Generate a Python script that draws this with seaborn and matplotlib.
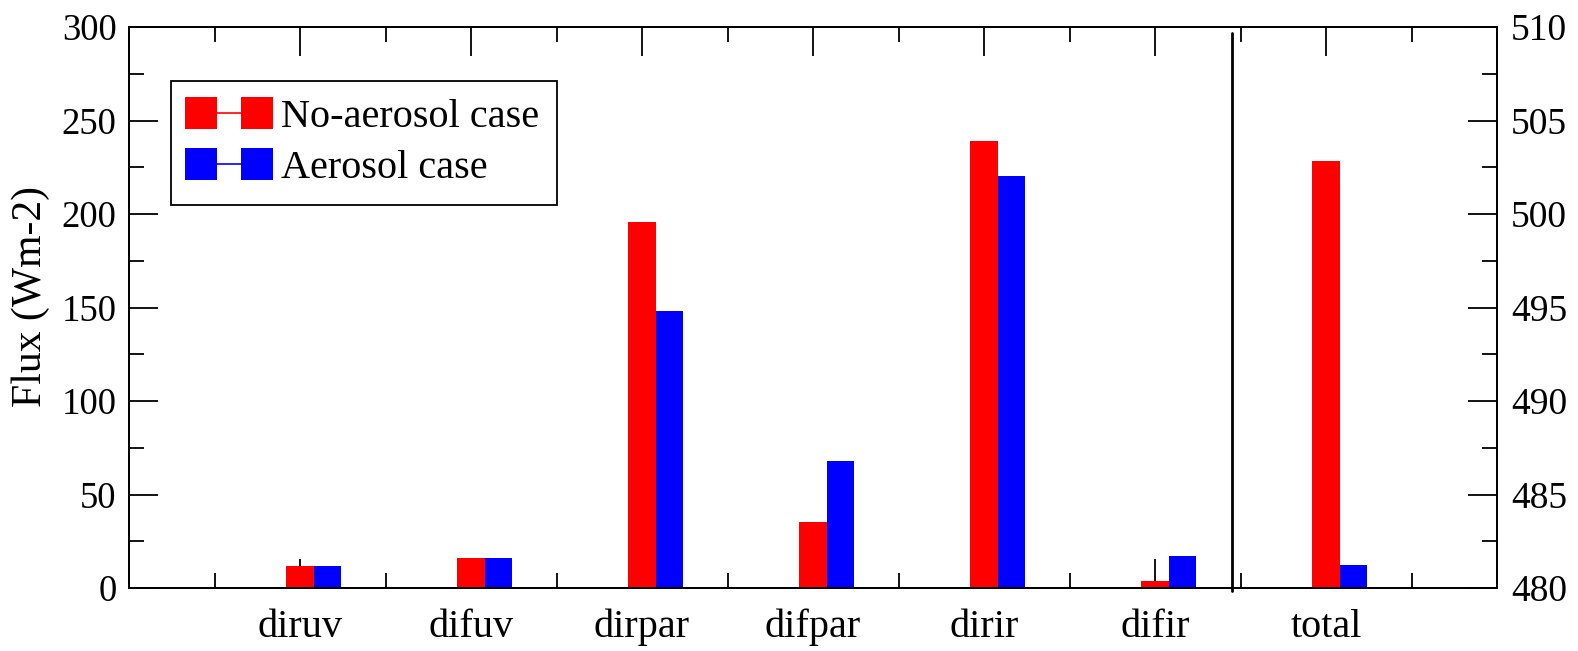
import numpy as np
import pandas as pd
import matplotlib
matplotlib.use("Agg")
import matplotlib.pyplot as plt
import seaborn as sns
from matplotlib.lines import Line2D
from matplotlib.ticker import MultipleLocator

# ---- data ----
categories = ["diruv", "difuv", "dirpar", "difpar", "dirir", "difir"]
no_aerosol = [11.5, 15.8, 195.5, 35.3, 239.2, 3.8]
aerosol = [11.5, 15.8, 148.3, 68.0, 220.5, 17.1]
total_label = "total"
total_no_aerosol = 502.85
total_aerosol = 481.25
series_names = ["No-aerosol case", "Aerosol case"]
left_ticks = [0, 50, 100, 150, 200, 250, 300]
right_ticks = [480, 485, 490, 495, 500, 505, 510]

sns.set_theme(style="white")
plt.rcParams["font.family"] = ["Liberation Serif", "DejaVu Serif"]
plt.rcParams["axes.linewidth"] = 1.3
plt.rcParams["text.color"] = "black"
plt.rcParams["axes.labelcolor"] = "black"
plt.rcParams["xtick.color"] = "black"
plt.rcParams["ytick.color"] = "black"

colors = {series_names[0]: "#ff0000", series_names[1]: "#0000ff"}

bar_w = 0.16
offset = bar_w / 2

rows = []
for i, c in enumerate(categories):
    rows.append({"pos": i + 1 + offset, "val": no_aerosol[i], "case": series_names[0]})
    rows.append({"pos": i + 1 + offset, "val": aerosol[i], "case": series_names[1]})
df = pd.DataFrame(rows)
tot_pos = len(categories) + 1
df_tot = pd.DataFrame({
    "pos": [tot_pos + offset, tot_pos + offset],
    "val": [total_no_aerosol, total_aerosol],
    "case": series_names,
})

fig = plt.figure(figsize=(15.78, 6.51), dpi=100)
ax = fig.add_axes([129 / 1578, 63 / 651, 1368 / 1578, 561 / 651])
ax2 = ax.twinx()

sns.barplot(data=df, x="pos", y="val", hue="case", native_scale=True,
            width=2 * bar_w, palette=colors, errorbar=None, legend=False,
            linewidth=0, ax=ax, hue_order=series_names, saturation=1)
sns.barplot(data=df_tot, x="pos", y="val", hue="case", native_scale=True,
            width=2 * bar_w, palette=colors, errorbar=None, legend=False,
            linewidth=0, ax=ax2, hue_order=series_names, saturation=1)

ax.set_xlim(0, len(categories) + 2)
ax.set_ylim(0, 300)
ax2.set_ylim(480, 510)
ax.set_yticks(left_ticks)
ax2.set_yticks(right_ticks)
ax.yaxis.set_minor_locator(MultipleLocator(25))
ax2.yaxis.set_minor_locator(MultipleLocator(2.5))

ax.set_xticks(range(1, len(categories) + 2))
ax.set_xticklabels(categories + [total_label], fontsize=29)
ax.xaxis.set_minor_locator(MultipleLocator(0.5))
ax.set_xlabel("")
ax2.set_xlabel("")
ax2.set_ylabel("")
ax.set_ylabel("Flux (Wm-2)", fontsize=30)
ax.yaxis.set_label_coords(-0.058, 0.52)

ax.tick_params(axis="both", which="major", direction="in", length=21, width=1.3,
               color="black", top=True, bottom=True, left=True, right=False)
ax.tick_params(axis="both", which="minor", direction="in", length=11, width=1.3,
               color="black", top=True, bottom=True, left=True, right=False)
ax.tick_params(axis="x", which="major", pad=15)
ax.tick_params(axis="y", which="major", pad=9, labelsize=26.5)
ax2.tick_params(axis="y", which="major", direction="in", length=21, width=1.3,
                labelsize=27, color="black", right=True, left=False, pad=10)
ax2.tick_params(axis="y", which="minor", direction="in", length=11, width=1.3,
                color="black", right=True, left=False)
ax2.tick_params(axis="x", which="both", top=False, bottom=False)

for a in (ax, ax2):
    for s in a.spines.values():
        s.set_color("black")
        s.set_linewidth(1.3)

# separator between band fluxes and total
ax.axvline(len(categories) + 0.45, ymin=-0.006, ymax=0.99, color="black",
           lw=2, clip_on=False)

handles = [Line2D([0], [0], color=colors[n], marker="s", markersize=23,
                  linestyle="-", lw=1.2, markeredgewidth=0) for n in series_names]
leg = ax.legend(handles, series_names, loc="upper left",
                bbox_to_anchor=(0.0307, 0.9037), borderaxespad=0,
                numpoints=2, handlelength=1.98, handletextpad=0.3,
                borderpad=0.45, labelspacing=0.33, fontsize=29,
                frameon=True, fancybox=False, edgecolor="black", framealpha=1)
leg.get_frame().set_linewidth(1.3)
leg.set_zorder(10)

fig.savefig("out.png", dpi=100)
